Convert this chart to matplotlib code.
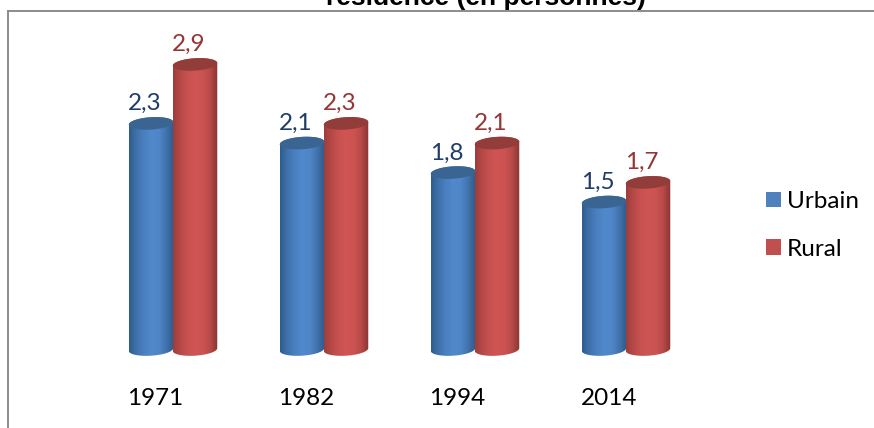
import numpy as np
import matplotlib.pyplot as plt
from matplotlib.patches import Patch, Polygon
from matplotlib.colors import LinearSegmentedColormap

years = ['1971', '1982', '1994', '2014']
urbain = [2.3, 2.1, 1.8, 1.5]
rural = [2.9, 2.3, 2.1, 1.7]
labels_urbain = ['2,3', '2,1', '1,8', '1,5']
labels_rural = ['2,9', '2,3', '2,1', '1,7']

plt.rcParams['font.family'] = ['Lato', 'DejaVu Sans']

BLUE = ['#2f5c8d', '#3f72ad', '#4b80c0', '#5089cc', '#4f86c8', '#4273ad', '#2f5a8a']
RED = ['#9c3e3c', '#b84a48', '#c85250', '#cf5553', '#cb5351', '#b84a48', '#8a3533']

W, H = 874, 428
X0, Y0 = 173, 349.5     # pixel of first group centre / value zero
PX_X, PX_Y = 151, 98.3  # pixels per category / per unit

fig = plt.figure(figsize=(W / 100, H / 100), dpi=100)
ax = fig.add_axes([0, 0, 1, 1])
ax.axis('off')

bar_w = 44.5 / PX_X
ry = 6.2 / PX_Y
offset = 22 / PX_X
tilt = 0.06 * PX_X / PX_Y   # ellipses lean up to the right


def ellipse_pts(xc, val, start, stop):
    t = np.linspace(start, stop, 60)
    x = xc + bar_w / 2 * np.cos(t)
    y = val + ry * np.sin(t) + tilt * (x - xc)
    return np.column_stack([x, y])


def cylinder(xc, val, colors, top_color, z):
    # lower half of bottom ellipse, then upper half of the top one
    pts = np.vstack([ellipse_pts(xc, 0, np.pi, 2 * np.pi), ellipse_pts(xc, val, 0, np.pi)])
    body = Polygon(pts, closed=True, fc='none', ec='none')
    ax.add_patch(body)
    cmap = LinearSegmentedColormap.from_list('c', colors)
    im = ax.imshow(np.linspace(0, 1, 64).reshape(1, -1), cmap=cmap, aspect='auto',
                   extent=(xc - bar_w / 2, xc + bar_w / 2, -2 * ry, val + 2 * ry), zorder=z)
    im.set_clip_path(body)
    ax.add_patch(Polygon(ellipse_pts(xc, val, 0, 2 * np.pi), closed=True, fc=top_color,
                         ec='none', zorder=z + 0.1))


for i, year in enumerate(years):
    cylinder(i - offset, urbain[i], BLUE, '#3a6593', 2)
    cylinder(i + offset, rural[i], RED, '#933d3b', 3)
    ax.text(i - offset - 6.5 / PX_X, urbain[i] + 0.134, labels_urbain[i], color='#1f3d66',
            fontsize=17.5, ha='center', va='baseline', zorder=5)
    ax.text(i + offset - 6.5 / PX_X, rural[i] + 0.134, labels_rural[i], color='#943634',
            fontsize=17.5, ha='center', va='baseline', zorder=5)
    ax.text(i - 0.115, -0.565, year, color='black', fontsize=17.5, ha='center', va='baseline')

# imshow changes the limits, so set them last
ax.set_xlim(-X0 / PX_X, (W - X0) / PX_X)
ax.set_ylim((Y0 - H) / PX_Y, Y0 / PX_Y)

# chart frame, only top and left visible
fig.add_artist(plt.Line2D([8 / W, 1], [1 - 10.5 / H] * 2, color='#8c8c8c', lw=1.4))
fig.add_artist(plt.Line2D([8.3 / W] * 2, [0, 1 - 10.5 / H], color='#8c8c8c', lw=1.4))

# title is cut by the top of the image
fig.text(486 / W, 1 - 5.5 / H, 'résidence (en personnes)', fontsize=19, fontweight='bold',
         family='Liberation Sans', ha='center', va='baseline', color='black')

handles = [Patch(fc='#4f81bd', ec='none', label='Urbain'),
           Patch(fc='#c0504d', ec='none', label='Rural')]
ax.legend(handles=handles, loc='center left', bbox_to_anchor=(766 / W, 1 - 225.5 / H),
          bbox_transform=fig.transFigure, frameon=False, fontsize=17.5,
          handlelength=0.62, handleheight=0.62, handletextpad=0.25, labelspacing=1.1,
          borderpad=0, borderaxespad=0)

fig.savefig('out.png', dpi=100)
